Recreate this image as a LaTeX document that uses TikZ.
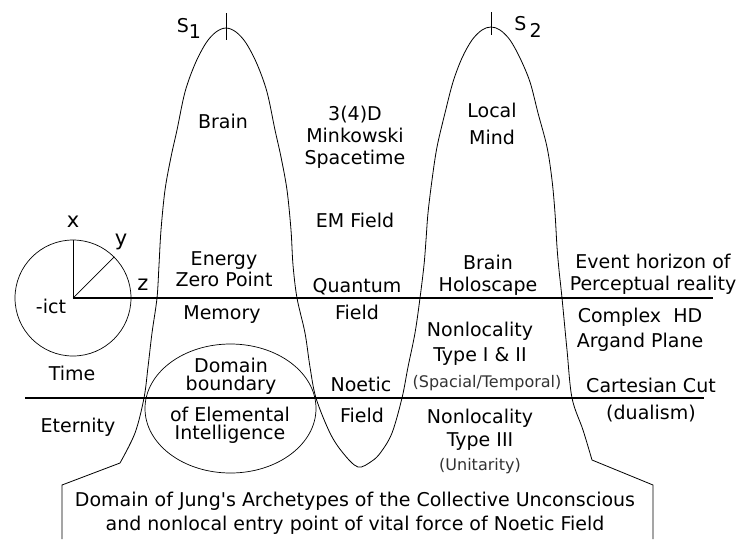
\documentclass[tikz,border=0pt]{standalone}
\usepackage{fontspec}
\setmainfont{DejaVu Sans}
\usepackage{tikz}
\usetikzlibrary{shapes.geometric}
\tikzset{
  txt/.style={align=center, inner sep=0pt, font=\fontsize{19}{22}\selectfont},
  tighttxt/.style={txt, font=\fontsize{19}{17.5}\selectfont},
  loosetxt/.style={txt, font=\fontsize{19}{25}\selectfont},
  widetxt/.style={txt, font=\fontsize{19}{27}\selectfont},
  smalltxt/.style={inner sep=0pt, font=\fontsize{16}{17}\selectfont, text=black!80},
  axistxt/.style={inner sep=0pt, font=\fontsize{21}{21}\selectfont},
  sptxt/.style={inner sep=0pt, font=\fontsize{19}{19}\selectfont},
  cutline/.style={line width=1.3pt},
  wave/.style={line width=0.8pt},
  thinline/.style={line width=0.7pt}
}

\begin{document}
\begin{tikzpicture}[x=1pt, y=-1pt]
  \useasboundingbox (0,0) rectangle (738,539);

  \coordinate (horizonR) at (713,298);
  \coordinate (cutL) at (25,398);
  \coordinate (cutR) at (704,398);
  \coordinate (s1top) at (226,13);
  \coordinate (s1bot) at (226,40);
  \coordinate (s2top) at (491,12);
  \coordinate (s2bot) at (491,35);

  \draw[wave] (62,539) -- (62,485) -- (120,463) -- plot[smooth, tension=0.55] coordinates {
    (120,463) (135,433) (144,398) (148,367) (152,333) (157,298) (159,265) (161,230)
    (165,190) (171,157) (177,130) (185,92) (195,64) (206,43) (216,32) (226,28)
    (236,32) (246,43) (257,64) (267,92) (275,130) (281,157) (287,190) (291,230)
    (293,265) (297,298) (305,333) (310,367) (316,398) (330,433) (343,453) (358,467)
    (372,461) (381,452) (392,433) (402,398) (408,367) (415,333) (420,298) (424,265)
    (426,240) (428,213) (432,180) (437,147) (445,113) (453,82) (462,58) (472,40)
    (482,30) (491,27) (500,30) (510,40) (520,58) (530,82) (538,113) (547,147)
    (552,180) (555,213) (557,247) (559,270) (562,298) (567,350) (572,398) (583,430)
    (592,460)} -- (653,485) -- (653,539);
  \draw[thinline] (s1top) -- (s1bot);
  \draw[thinline] (s2top) -- (s2bot);

  \node[circle, draw, thinline, minimum size=116pt, inner sep=0pt] (clock) at (73,298) {};
  \draw[thinline] (clock.center) -- (clock.north);
  \draw[thinline] (clock.center) -- (clock.45);
  \draw[cutline] (clock.center) -- (horizonR);
  \draw[cutline] (cutL) -- (cutR);

  \node[ellipse, draw, thinline, minimum width=171pt, minimum height=129pt, inner sep=0pt] (elemental) at (230.5,408.5) {};

  \node[sptxt] (s1) at (189,28) {S\raisebox{-6pt}{1}};
  \node[sptxt] (s2) at (528,27) {S\,\raisebox{-7pt}{2}};
  \node[axistxt] (xlbl) at (73,222) {x};
  \node[axistxt] (ylbl) at (121,242) {y};
  \node[axistxt] (zlbl) at (143,285) {z};
  \node[txt] (ict) at (51,306) {-ict};
  \node[txt] (time) at (72,373) {Time};
  \node[txt] (eternity) at (78,427) {Eternity};

  \node[txt] (brain) at (223,121) {Brain};
  \node[txt, font=\fontsize{19}{21}\selectfont] (zeropoint) at (224,269) {Energy\\Zero Point};
  \node[txt] (memory) at (222,315) {Memory};
  \node[tighttxt] (domain) at (231,376) {Domain\\boundary};
  \node[tighttxt] (intelligence) at (230,425) {of Elemental\\Intelligence};

  \node[txt] (minkowski) at (355,137) {3(4)D\\Minkowski\\Spacetime};
  \node[txt] (emfield) at (355,220) {EM Field};
  \node[widetxt] (quantum) at (357,299) {Quantum\\Field};
  \node[txt] (noetic) at (361,384) {Noetic};
  \node[txt] (noeticfield) at (362,415) {Field};

  \node[widetxt] (mind) at (492,124) {Local\\Mind};
  \node[txt] (holoscape) at (488,275) {Brain\\Holoscape};
  \node[loosetxt] (nonlocal) at (480,344) {Nonlocality\\Type I \& II};
  \node[smalltxt] (spatial) at (487,383) {(Spacial/Temporal)};
  \node[txt, font=\fontsize{19}{23}\selectfont] (nonlocalIII) at (480,430) {Nonlocality\\Type III};
  \node[smalltxt] (unitarity) at (480,466) {(Unitarity)};

  \node[txt] (horizon) at (653,274) {Event horizon of\\Perceptual reality};
  \node[loosetxt] (argand) at (640,330) {Complex~~HD\\Argand Plane};
  \node[txt] (cartesian) at (651,385) {Cartesian Cut};
  \node[txt] (dualism) at (651,414) {(dualism)};

  \node[txt, font=\fontsize{19}{24}\selectfont] (jung) at (355,513) {Domain of Jung\textquotesingle s Archetypes of the Collective Unconscious\\and nonlocal entry point of vital force of Noetic Field};
\end{tikzpicture}
\end{document}
